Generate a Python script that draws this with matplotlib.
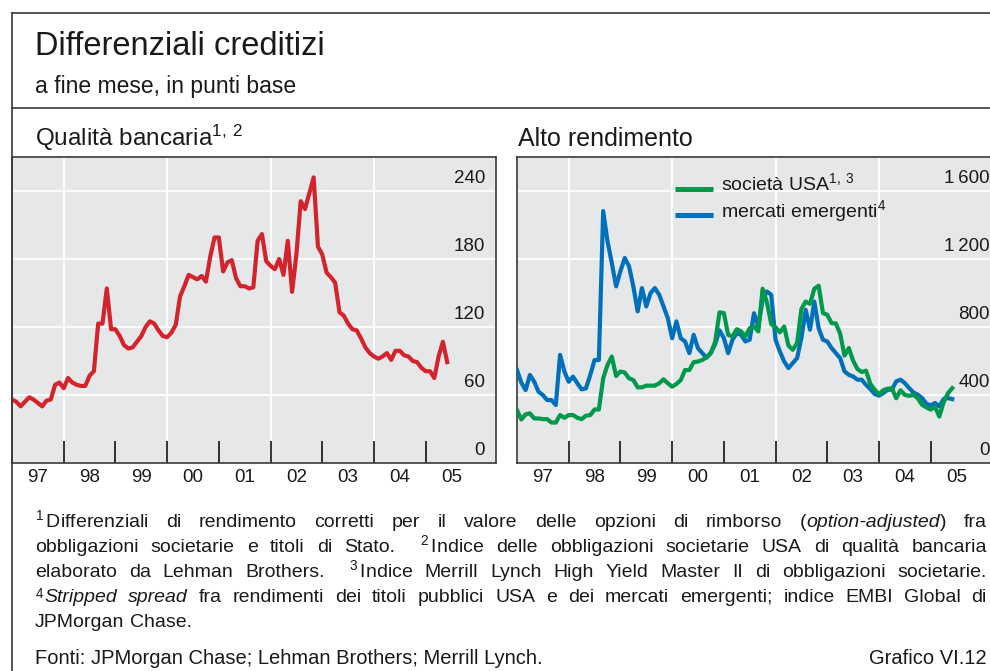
import re
import numpy as np
import matplotlib.pyplot as plt
import matplotlib.transforms as mtransforms
from matplotlib.lines import Line2D

plt.rcParams['font.family'] = ['Liberation Sans', 'DejaVu Sans']
plt.rcParams['mathtext.fontset'] = 'custom'
plt.rcParams['mathtext.rm'] = 'Liberation Sans'
plt.rcParams['mathtext.it'] = 'Liberation Sans:italic'
plt.rcParams['mathtext.bf'] = 'Liberation Sans:bold'

#----------------------------------------------------------------DATI----------------------------------------------------------------
# fine mese, gen 1997 - giu 2005, punti base
inizio = 1997.0

qualita_bancaria = [56, 54, 50, 54, 58, 56, 53, 50, 55, 56, 69, 71,
                    66, 75, 71, 69, 68, 68, 77, 81, 123, 123, 154, 118,
                    118, 112, 104, 101, 102, 107, 112, 120, 125, 123, 117, 112,
                    111, 115, 122, 147, 156, 166, 164, 162, 165, 160, 182, 199,
                    199, 169, 177, 179, 163, 156, 156, 154, 155, 196, 202, 178,
                    174, 171, 180, 166, 196, 151, 184, 231, 224, 238, 252, 191,
                    184, 168, 164, 159, 133, 130, 123, 118, 117, 110, 102, 97,
                    94, 92, 94, 97, 91, 99, 99, 95, 94, 90, 89, 84,
                    81, 81, 75, 94, 107, 89]

societa_usa = [311, 256, 286, 292, 262, 262, 258, 258, 238, 238, 282, 266,
               282, 282, 266, 258, 278, 282, 315, 315, 498, 577, 626, 512,
               538, 532, 498, 488, 445, 445, 455, 455, 455, 469, 492, 469,
               449, 465, 488, 547, 547, 593, 597, 606, 622, 646, 715, 886,
               882, 754, 744, 787, 774, 744, 793, 803, 774, 1025, 945, 818,
               798, 769, 803, 690, 666, 705, 906, 950, 936, 1025, 1043, 882,
               872, 823, 821, 760, 632, 676, 602, 553, 535, 543, 465, 432,
               404, 428, 437, 440, 381, 428, 401, 395, 401, 381, 342, 327,
               314, 332, 273, 357, 410, 440]

mercati_emergenti = [547, 473, 429, 518, 478, 419, 400, 370, 370, 341, 636, 538,
                     478, 508, 469, 433, 439, 518, 606, 606, 1482, 1305, 1177, 1039,
                     1128, 1206, 1157, 1039, 892, 1029, 921, 1000, 1029, 990, 921, 852,
                     734, 833, 734, 715, 646, 754, 675, 646, 620, 650, 700, 780,
                     735, 646, 725, 764, 754, 715, 725, 881, 803, 960, 1009, 989,
                     725, 656, 597, 558, 588, 617, 735, 901, 784, 950, 793, 725,
                     715, 676, 646, 617, 539, 519, 509, 490, 490, 460, 435, 406,
                     396, 411, 431, 431, 480, 490, 470, 441, 415, 402, 382, 349,
                     339, 353, 333, 376, 382, 376]

anni_tick = [1998, 1999, 2000, 2001, 2002, 2003, 2004, 2005]
anni_griglia = [1998, 2000, 2002, 2004]
etichette_anni = ['97', '98', '99', '00', '01', '02', '03', '04', '05']

yticks_sx = [0, 60, 120, 180, 240]
etichette_sx = ['0', '60', '120', '180', '240']
yticks_dx = [0, 400, 800, 1200, 1600]
etichette_dx = ['0', '400', '800', '1\u2009200', '1\u2009600']

serie_legenda = ['società USA$^{1,\\;3}$', 'mercati emergenti$^{4}$']

#----------------------------------------------------------------FIGURA----------------------------------------------------------------
W, H = 990, 671
fig = plt.figure(figsize=(W / 100, H / 100), dpi=100)
fig.patch.set_facecolor('white')
renderer = fig.canvas.get_renderer()

SFONDO = '#e6e7e9'
ROSSO = '#d3232c'
VERDE = '#00984a'
BLU = '#0070bb'
BORDO = '#3a3a3a'
TESTO = '#1a1a1a'


def box(x0, y0, x1, y1):
    return [x0 / W, 1 - y1 / H, (x1 - x0) / W, (y1 - y0) / H]


def fy(y):
    return 1 - y / H


def pannello(ax, yticks, etichette, ymax):
    ax.set_facecolor(SFONDO)
    ax.set_xlim(1997, 2006.36)
    ax.set_ylim(0, ymax)
    for v in yticks[1:]:
        ax.axhline(v, color='white', lw=1.3, zorder=1)
    for a in anni_griglia:
        ax.axvline(a, color='white', lw=1.3, zorder=1)
    ax.set_yticks([])
    ax.set_xticks(anni_tick)
    ax.set_xticklabels([])
    ax.set_xticks([a + 0.5 for a in range(1997, 2006)], minor=True)
    ax.set_xticklabels(etichette_anni, minor=True, fontsize=13.5)
    ax.tick_params(axis='x', which='major', direction='in', length=15.8, width=1.1, color='black')
    ax.tick_params(axis='x', which='minor', length=0, pad=4.2, labelcolor=TESTO)
    for s in ax.spines.values():
        s.set_color(BORDO)
        s.set_linewidth(1.2)
    tr = mtransforms.offset_copy(ax.get_yaxis_transform(), fig=fig, x=0, y=8, units='dots')
    for v, lab in zip(yticks, etichette):
        ax.text(1 - 11 / 484, v, lab, transform=tr, ha='right', va='baseline',
                fontsize=13.5, color=TESTO, zorder=5)


t = inizio + np.arange(len(qualita_bancaria)) / 12

ax1 = fig.add_axes(box(12, 157, 496, 463))
pannello(ax1, yticks_sx, etichette_sx, 270)
ax1.plot(t, qualita_bancaria, color=ROSSO, lw=3.0, zorder=3)

ax2 = fig.add_axes(box(517, 157, 1001, 463))
pannello(ax2, yticks_dx, etichette_dx, 1800)
ax2.plot(t, mercati_emergenti, color=BLU, lw=3.0, zorder=3)
ax2.plot(t, societa_usa, color=VERDE, lw=3.0, zorder=3)

# legenda disegnata a mano (linea + testo), in pixel della figura
for colore, lab, yl, yt in [(VERDE, serie_legenda[0], 189, 190.5), (BLU, serie_legenda[1], 215, 217.5)]:
    fig.add_artist(Line2D([675 / W, 713 / W], [fy(yl), fy(yl)], transform=fig.transFigure,
                          color=colore, lw=3.6, solid_capstyle='butt'))
    fig.text(721 / W, fy(yt), lab, fontsize=14, color=TESTO, va='baseline')

#----------------------------------------------------------------CORNICE E TITOLI----------------------------------------------------------------
for (x0, y0, x1, y1) in [(12, 13, 990, 13), (12, 108, 990, 108), (12, 13, 12, 671)]:
    fig.add_artist(Line2D([x0 / W, x1 / W], [fy(y0), fy(y1)], transform=fig.transFigure,
                          color=BORDO, lw=1.2))

fig.text(35 / W, fy(55), 'Differenziali creditizi', fontsize=23.5, color=TESTO, va='baseline')
fig.text(35 / W, fy(93), 'a fine mese, in punti base', fontsize=16.5, color=TESTO, va='baseline')
fig.text(35 / W, fy(146), 'Qualità bancaria$^{1,\\;2}$', fontsize=17.5, color=TESTO, va='baseline')
fig.text(518 / W, fy(146), 'Alto rendimento', fontsize=18, color=TESTO, va='baseline')

#----------------------------------------------------------------NOTE----------------------------------------------------------------
# *...* = corsivo ; righe giustificate tra X0 e X1
righe_note = [
    ('$^{1}\\,$Differenziali di rendimento corretti per il valore delle opzioni di rimborso (*option-adjusted*) fra', True),
    ('obbligazioni societarie e titoli di Stato.  $^{2}\\,$Indice delle obbligazioni societarie USA di qualità bancaria', True),
    ('elaborato da Lehman Brothers.  $^{3}\\,$Indice Merrill Lynch High Yield Master II di obbligazioni societarie.', True),
    ('$^{4}\\,$*Stripped* *spread* fra rendimenti dei titoli pubblici USA e dei mercati emergenti; indice EMBI Global di', True),
    ('JPMorgan Chase.', False),
]
basi_note = [527, 552, 577, 602, 627]
X0, X1 = 35, 987


def larghezza(testo, size, italic=False):
    tt = fig.text(0, 0, testo, fontsize=size, style='italic' if italic else 'normal')
    w = tt.get_window_extent(renderer).width
    tt.remove()
    return w


def parole(riga):
    out = []
    for w in riga.split(' '):
        segs = [s for s in re.split(r'(\*[^*]*\*)', w) if s]
        out.append([(s.strip('*'), s.startswith('*')) for s in segs])
    return out


def misura(riga, size):
    return [sum(larghezza(s, size, it) for s, it in p) for p in parole(riga)]


dim = 14
spazio = larghezza('a a', dim) - larghezza('aa', dim)
for riga, giust in righe_note:
    ww = misura(riga, dim)
    natur = sum(ww) + spazio * (len(ww) - 1)
    if natur > X1 - X0:
        dim = dim * (X1 - X0) / natur * 0.995
        spazio = larghezza('a a', dim) - larghezza('aa', dim)

for (riga, giust), yb in zip(righe_note, basi_note):
    pp = parole(riga)
    ww = misura(riga, dim)
    gap = (X1 - X0 - sum(ww)) / (len(ww) - 1) if giust else spazio
    x = X0
    for p, w in zip(pp, ww):
        xs = x
        for s, it in p:
            fig.text(xs / W, fy(yb), s, fontsize=dim, style='italic' if it else 'normal',
                     color=TESTO, va='baseline', ha='left')
            xs += larghezza(s, dim, it)
        x += w + gap

fig.text(X0 / W, fy(664), 'Fonti: JPMorgan Chase; Lehman Brothers; Merrill Lynch.', fontsize=14.5,
         color=TESTO, va='baseline')
fig.text(X1 / W, fy(664), 'Grafico VI.12', fontsize=14.5, color=TESTO, va='baseline', ha='right')

fig.savefig('out.png', dpi=100)
